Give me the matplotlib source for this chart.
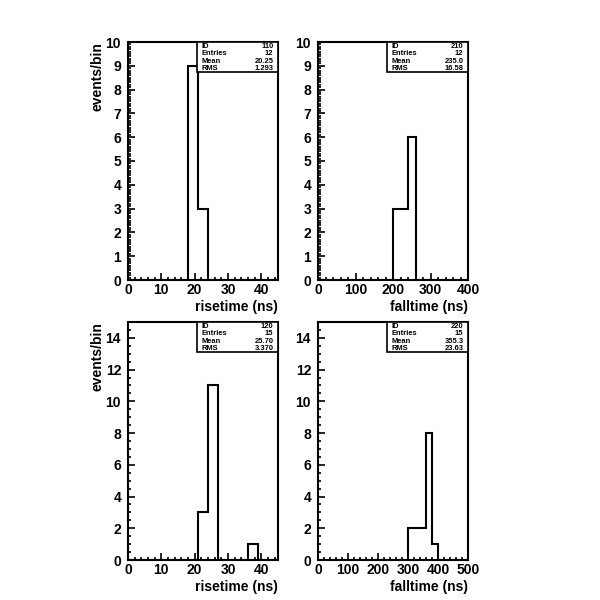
import numpy as np
import matplotlib
matplotlib.use("Agg")
import matplotlib.pyplot as plt
from matplotlib.ticker import MultipleLocator

plt.rcParams['font.family'] = ['Liberation Sans', 'DejaVu Sans']
plt.rcParams['font.weight'] = 'bold'

# histogram contents (bin edges start at 0)
rise1_width = 3
rise1_counts = [0, 0, 0, 0, 0, 0, 9, 3, 0, 0, 0, 0, 0, 0, 0]
fall1_width = 20
fall1_counts = [0, 0, 0, 0, 0, 0, 0, 0, 0, 0, 3, 3, 6, 0, 0, 0, 0, 0, 0, 0]
rise2_width = 3
rise2_counts = [0, 0, 0, 0, 0, 0, 0, 3, 11, 0, 0, 0, 1, 0, 0]
fall2_width = 20
fall2_counts = [0, 0, 0, 0, 0, 0, 0, 0, 0, 0, 0, 0, 0, 0, 0, 2, 2, 2, 8, 1, 0, 0, 0, 0, 0]

stats = {
    'rise1': ['110', '12', '20.25', '1.293'],
    'fall1': ['210', '12', '235.0', '16.58'],
    'rise2': ['120', '15', '25.70', '3.370'],
    'fall2': ['220', '15', '355.3', '23.63'],
}
stat_names = ['ID', 'Entries', 'Mean', 'RMS']

fig = plt.figure(figsize=(6, 6), dpi=100)
fig.patch.set_facecolor('white')

panels = [
    # key, counts, width, xmax, ymax, xmaj, xmin, ymaj, ymin, xlabel, rect, ylabel
    ('rise1', rise1_counts, rise1_width, 45, 10, 10, 2, 1, 0.1, 'risetime (ns)',
     [128/600, 1-280/600, 150/600, 238/600], True),
    ('fall1', fall1_counts, fall1_width, 400, 10, 100, 20, 1, 0.1, 'falltime (ns)',
     [318/600, 1-280/600, 150/600, 238/600], False),
    ('rise2', rise2_counts, rise2_width, 45, 15, 10, 2, 2, 0.5, 'risetime (ns)',
     [128/600, 1-560/600, 150/600, 238/600], True),
    ('fall2', fall2_counts, fall2_width, 500, 15, 100, 20, 2, 0.5, 'falltime (ns)',
     [318/600, 1-560/600, 150/600, 238/600], False),
]

for key, counts, width, xmax, ymax, xmaj, xmn, ymaj, ymn, xlabel, rect, ylab in panels:
    ax = fig.add_axes(rect)
    edges = np.arange(len(counts) + 1) * width
    ax.stairs(counts, edges, color='black', linewidth=1.5)
    ax.set_xlim(0, xmax)
    ax.set_ylim(0, ymax)
    ax.xaxis.set_major_locator(MultipleLocator(xmaj))
    ax.xaxis.set_minor_locator(MultipleLocator(xmn))
    ax.yaxis.set_major_locator(MultipleLocator(ymaj))
    ax.yaxis.set_minor_locator(MultipleLocator(ymn))
    ax.tick_params(which='both', direction='in', top=False, right=False,
                   width=1.2, labelsize=10, colors='black')
    ax.tick_params(which='major', length=5)
    ax.tick_params(axis='x', which='major', pad=2)
    ax.tick_params(axis='y', which='major', pad=5)
    ax.tick_params(which='minor', length=2.5)
    for lab in ax.get_xticklabels() + ax.get_yticklabels():
        lab.set_fontweight('bold')
    for sp in ax.spines.values():
        sp.set_linewidth(1.5)
    ax.text(1.0, -0.085, xlabel, transform=ax.transAxes, ha='right', va='top',
            fontsize=10, fontweight='bold')
    if ylab:
        ax.text(-0.2, 1.0, 'events/bin', transform=ax.transAxes, ha='center',
                va='top', rotation=90, fontsize=10, fontweight='bold')

    # statistics box
    bx0, by0 = 0.46, 0.874
    ax.add_patch(plt.Rectangle((bx0, by0), 1 - bx0, 1 - by0, transform=ax.transAxes,
                               facecolor='white', edgecolor='black', linewidth=1.2,
                               zorder=5, clip_on=False))
    for i, (name, val) in enumerate(zip(stat_names, stats[key])):
        yy = 0.997 - i * 0.0315
        ax.text(bx0 + 0.03, yy, name, transform=ax.transAxes, ha='left', va='top',
                fontsize=5.4, fontweight='bold', zorder=6)
        ax.text(0.97, yy, val, transform=ax.transAxes, ha='right', va='top',
                fontsize=5.4, fontweight='bold', zorder=6)

fig.savefig('out.png', dpi=100, facecolor='white')
